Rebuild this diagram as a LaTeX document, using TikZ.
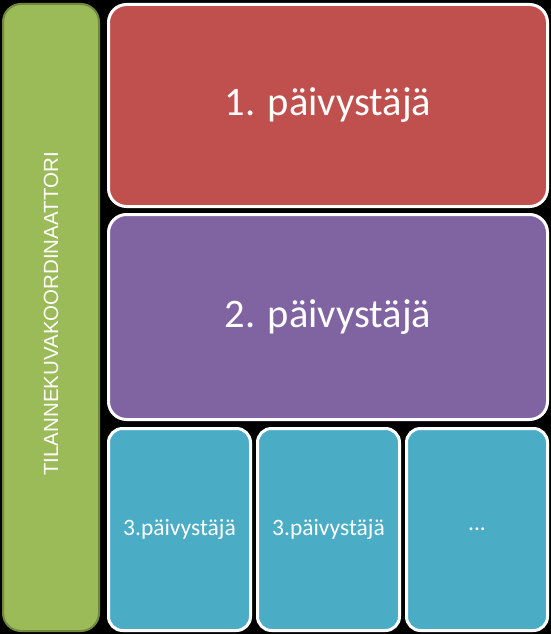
\documentclass[tikz,border=0pt]{standalone}
\usepackage{fontspec}
\setmainfont{Carlito}
\newfontfamily\arialfont{Liberation Sans}
\definecolor{olive}{HTML}{9BBB59}
\definecolor{olivedark}{HTML}{71893F}
\definecolor{brick}{HTML}{C0504D}
\definecolor{lilac}{HTML}{8064A2}
\definecolor{aqua}{HTML}{4BACC6}
\begin{document}
\begin{tikzpicture}[%
  x = 1pt, y = -1pt,
  box/.style = {draw = white, line width = 3pt, rounded corners = 18pt,
    text = white, inner sep = 0pt, font = \fontsize{40.5}{44}\selectfont},
  smallbox/.style = {box, rounded corners = 14pt, font = \fontsize{23.5}{26}\selectfont}]
  \fill[black] (0, 0) rectangle (551, 634);

  \node[draw = olivedark, line width = 2pt, fill = olive, rounded corners = 18pt,
    minimum width = 96pt, minimum height = 627pt, inner sep = 0pt] (coord) at (51, 317.5) {};
  \node[rotate = 90, text = white, font = \arialfont\fontsize{20.5}{24}\selectfont]
    (coordlabel) at (51, 314) {TILANNEKUVAKOORDINAATTORI};

  \node[box, fill = brick, minimum width = 439pt, minimum height = 202pt] (first) at (328, 105.5) {1. päivystäjä};
  \node[box, fill = lilac, minimum width = 439pt, minimum height = 205pt] (second) at (328, 317) {2. päivystäjä};

  \node[smallbox, fill = aqua, minimum width = 142pt, minimum height = 202pt] (third1) at (179.5, 529.5) {3.päivystäjä};
  \node[smallbox, fill = aqua, minimum width = 142pt, minimum height = 202pt] (third2) at (328.5, 529.5) {3.päivystäjä};
  \node[smallbox, fill = aqua, minimum width = 141pt, minimum height = 202pt] (third3) at (477, 529.5) {...};
\end{tikzpicture}
\end{document}
